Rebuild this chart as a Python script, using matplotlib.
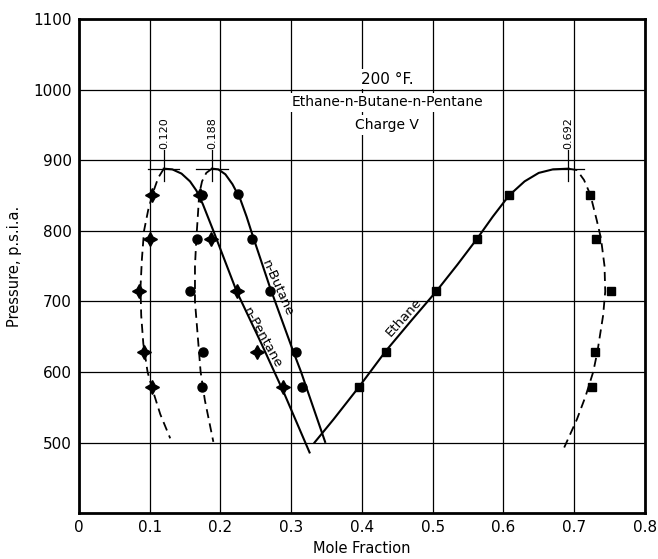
import matplotlib
matplotlib.use("Agg")
import matplotlib.pyplot as plt
import numpy as np

# measured points (mole fraction, psia)
pent_vap_x = [0.103, 0.101, 0.085, 0.092, 0.103]
pent_vap_y = [851, 789, 714, 628, 579]
pent_liq_x = [0.171, 0.187, 0.223, 0.252, 0.288]
pent_liq_y = [851, 789, 714, 629, 579]
but_vap_x = [0.174, 0.167, 0.157, 0.175, 0.174]
but_vap_y = [851, 789, 714, 628, 579]
but_liq_x = [0.225, 0.245, 0.270, 0.307, 0.315]
but_liq_y = [852, 789, 714, 629, 579]
eth_liq_x = [0.396, 0.434, 0.505, 0.563, 0.608]
eth_liq_y = [579, 628, 714, 789, 850]
eth_vap_x = [0.723, 0.731, 0.752, 0.729, 0.725]
eth_vap_y = [851, 789, 714, 629, 579]

# curves
pent_dash_x = [0.120, 0.112, 0.105, 0.098, 0.092, 0.089, 0.087, 0.088, 0.091, 0.097, 0.104, 0.115, 0.129]
pent_dash_y = [888, 875, 855, 830, 800, 760, 720, 680, 640, 600, 575, 540, 506]
pent_solid_x = [0.120, 0.132, 0.145, 0.157, 0.166, 0.175, 0.190, 0.223, 0.258, 0.290, 0.326]
pent_solid_y = [888, 887, 881, 870, 857, 838, 800, 714, 640, 570, 486]
but_dash_x = [0.188, 0.180, 0.174, 0.170, 0.168, 0.166, 0.164, 0.164, 0.168, 0.172, 0.178, 0.190]
but_dash_y = [888, 882, 870, 852, 820, 790, 750, 700, 650, 600, 560, 501]
but_solid_x = [0.188, 0.197, 0.207, 0.217, 0.228, 0.237, 0.245, 0.270, 0.303, 0.314, 0.348]
but_solid_y = [888, 887, 880, 866, 845, 820, 795, 720, 629, 600, 501]
eth_solid_x = [0.333, 0.360, 0.396, 0.434, 0.470, 0.505, 0.535, 0.563, 0.585, 0.608, 0.630, 0.650, 0.670, 0.692]
eth_solid_y = [500, 533, 579, 630, 673, 714, 752, 789, 820, 850, 870, 882, 887, 888]
eth_dash_x = [0.692, 0.704, 0.714, 0.723, 0.732, 0.738, 0.743, 0.744, 0.741, 0.733, 0.727, 0.716, 0.704, 0.686]
eth_dash_y = [888, 886, 872, 851, 815, 789, 750, 714, 680, 629, 600, 565, 533, 493]

# critical points
crit_x = [0.120, 0.188, 0.692]
crit_y = [888, 888, 888]
crit_lbl = ["0.120", "0.188", "0.692"]

xticks = [0, 0.1, 0.2, 0.3, 0.4, 0.5, 0.6, 0.7, 0.8]
xtick_lbl = ["0", "0.1", "0.2", "0.3", "0.4", "0.5", "0.6", "0.7", "0.8"]
yticks = [500, 600, 700, 800, 900, 1000, 1100]

fig = plt.figure(figsize=(6.58, 5.59), dpi=100)
ax = fig.add_axes([0.120, 0.082, 0.860, 0.884])
ax.set_xlim(0, 0.8)
ax.set_ylim(400, 1100)
ax.set_xticks(xticks)
ax.set_xticklabels(xtick_lbl)
ax.set_yticks(yticks)
ax.tick_params(length=0, labelsize=11, pad=5)
ax.grid(True, color="black", lw=0.9)
ax.set_axisbelow(True)
for s in ax.spines.values():
    s.set_linewidth(2)
ax.set_xlabel("Mole Fraction", fontsize=10.5)
ax.set_ylabel("Pressure, p.s.i.a.", fontsize=10.5, labelpad=8)

lw = 1.5
ax.plot(pent_dash_x, pent_dash_y, "k--", lw=1.3, dashes=(5, 3))
ax.plot(pent_solid_x, pent_solid_y, "k-", lw=lw)
ax.plot(but_dash_x, but_dash_y, "k--", lw=1.3, dashes=(5, 3))
ax.plot(but_solid_x, but_solid_y, "k-", lw=lw)
ax.plot(eth_solid_x, eth_solid_y, "k-", lw=lw)
ax.plot(eth_dash_x, eth_dash_y, "k--", lw=1.3, dashes=(5, 3))

star = (4, 1, 0)
ax.plot(pent_vap_x + pent_liq_x, pent_vap_y + pent_liq_y, ls="none", marker=star, ms=10, color="black")
ax.plot(but_vap_x + but_liq_x, but_vap_y + but_liq_y, ls="none", marker="o", ms=6.5, color="black")
ax.plot(eth_liq_x + eth_vap_x, eth_liq_y + eth_vap_y, ls="none", marker="s", ms=6, color="black")

for cx, cy, lbl in zip(crit_x, crit_y, crit_lbl):
    ax.plot([cx - 0.022, cx + 0.022], [cy, cy], "k-", lw=0.9)
    ax.plot([cx, cx], [cy - 18, cy + 26], "k-", lw=0.9)
    ax.text(cx, cy + 28, lbl, rotation=90, ha="center", va="bottom", fontsize=8)

wb = dict(facecolor="white", edgecolor="none", pad=2)
ax.text(0.436, 1015, "200 °F.", ha="center", va="center", fontsize=11, bbox=wb)
ax.text(0.436, 982, "Ethane-n-Butane-n-Pentane", ha="center", va="center", fontsize=10, bbox=wb)
ax.text(0.436, 950, "Charge V", ha="center", va="center", fontsize=10, bbox=wb)

ax.text(0.281, 718, "n-Butane", rotation=-66, ha="center", va="center", fontsize=9.5)
ax.text(0.259, 649, "n-Pentane", rotation=-61, ha="center", va="center", fontsize=9.5)
ax.text(0.459, 677, "Ethane", rotation=48, ha="center", va="center", fontsize=9.5)

fig.savefig("out.png", dpi=100)
